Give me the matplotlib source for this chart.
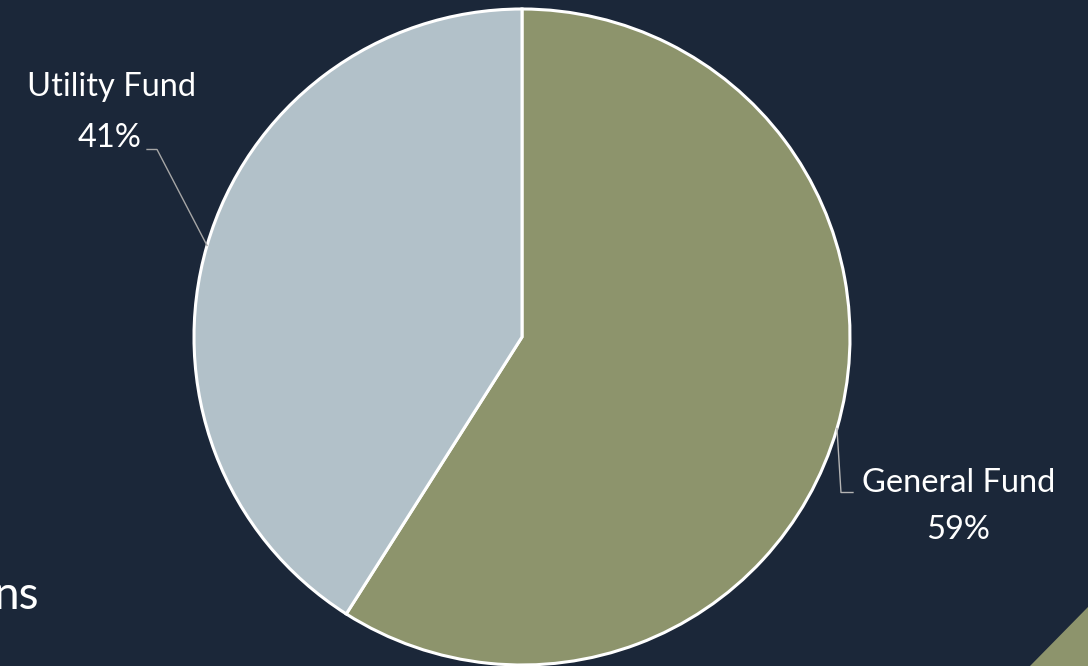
import numpy as np
import matplotlib
matplotlib.use("Agg")
import matplotlib.pyplot as plt
from matplotlib.patches import Polygon

# Fund split
funds = ["General Fund", "Utility Fund"]
shares = [59, 41]
colors = ["#8d946c", "#b2c1c9"]

BG = "#1b2739"
W, H = 1088, 666

fig = plt.figure(figsize=(W / 100, H / 100), dpi=100, facecolor=BG)
ax = fig.add_axes([0, 0, 1, 1])
ax.set_facecolor(BG)

cx, cy, r = 522, H - 337, 328
wedges, _ = ax.pie(shares, colors=colors, startangle=90, counterclock=False,
                   center=(cx, cy), radius=r, frame=True,
                   wedgeprops=dict(edgecolor="white", linewidth=2.2))
ax.set_xlim(0, W)
ax.set_ylim(0, H)
ax.set_aspect("equal")
ax.axis("off")

font = ["Lato", "DejaVu Sans"]
fs = 23.5

# Leader lines and labels placed off each wedge's middle angle
for w, name, val in zip(wedges, funds, shares):
    mid = np.deg2rad((w.theta1 + w.theta2) / 2)
    ex, ey = cx + r * np.cos(mid), cy + r * np.sin(mid)
    if np.cos(mid) < 0:
        kx, ky = ex - 50, ey + 96
        ax.plot([ex, kx, kx - 10], [ey, ky, ky], color="#a6a6a6", lw=1.0)
        ax.text(kx - 46, ky + 62, name, color="white", fontsize=fs,
                family=font, ha="center", va="center")
        ax.text(kx - 47, ky + 11, f"{val}%", color="white", fontsize=fs,
                family=font, ha="center", va="center")
    else:
        kx, ky = ex + 4, ey - 64
        ax.plot([ex, kx, kx + 12], [ey, ky, ky], color="#b4b4b4", lw=1.0)
        ax.text(kx + 118, ky + 10, name, color="white", fontsize=fs,
                family=font, ha="center", va="center")
        ax.text(kx + 117, ky - 37, f"{val}%", color="white", fontsize=fs,
                family=font, ha="center", va="center")

# Slide fragments around the chart
ax.text(-6, H - 596, "ns", color="white", fontsize=33, family=font,
        ha="left", va="center")
ax.add_patch(Polygon([[1030, 0], [W, 0], [W, 59]], closed=True,
                     facecolor="#8d946c", edgecolor="none"))

fig.savefig("out.png", dpi=100, facecolor=BG)
